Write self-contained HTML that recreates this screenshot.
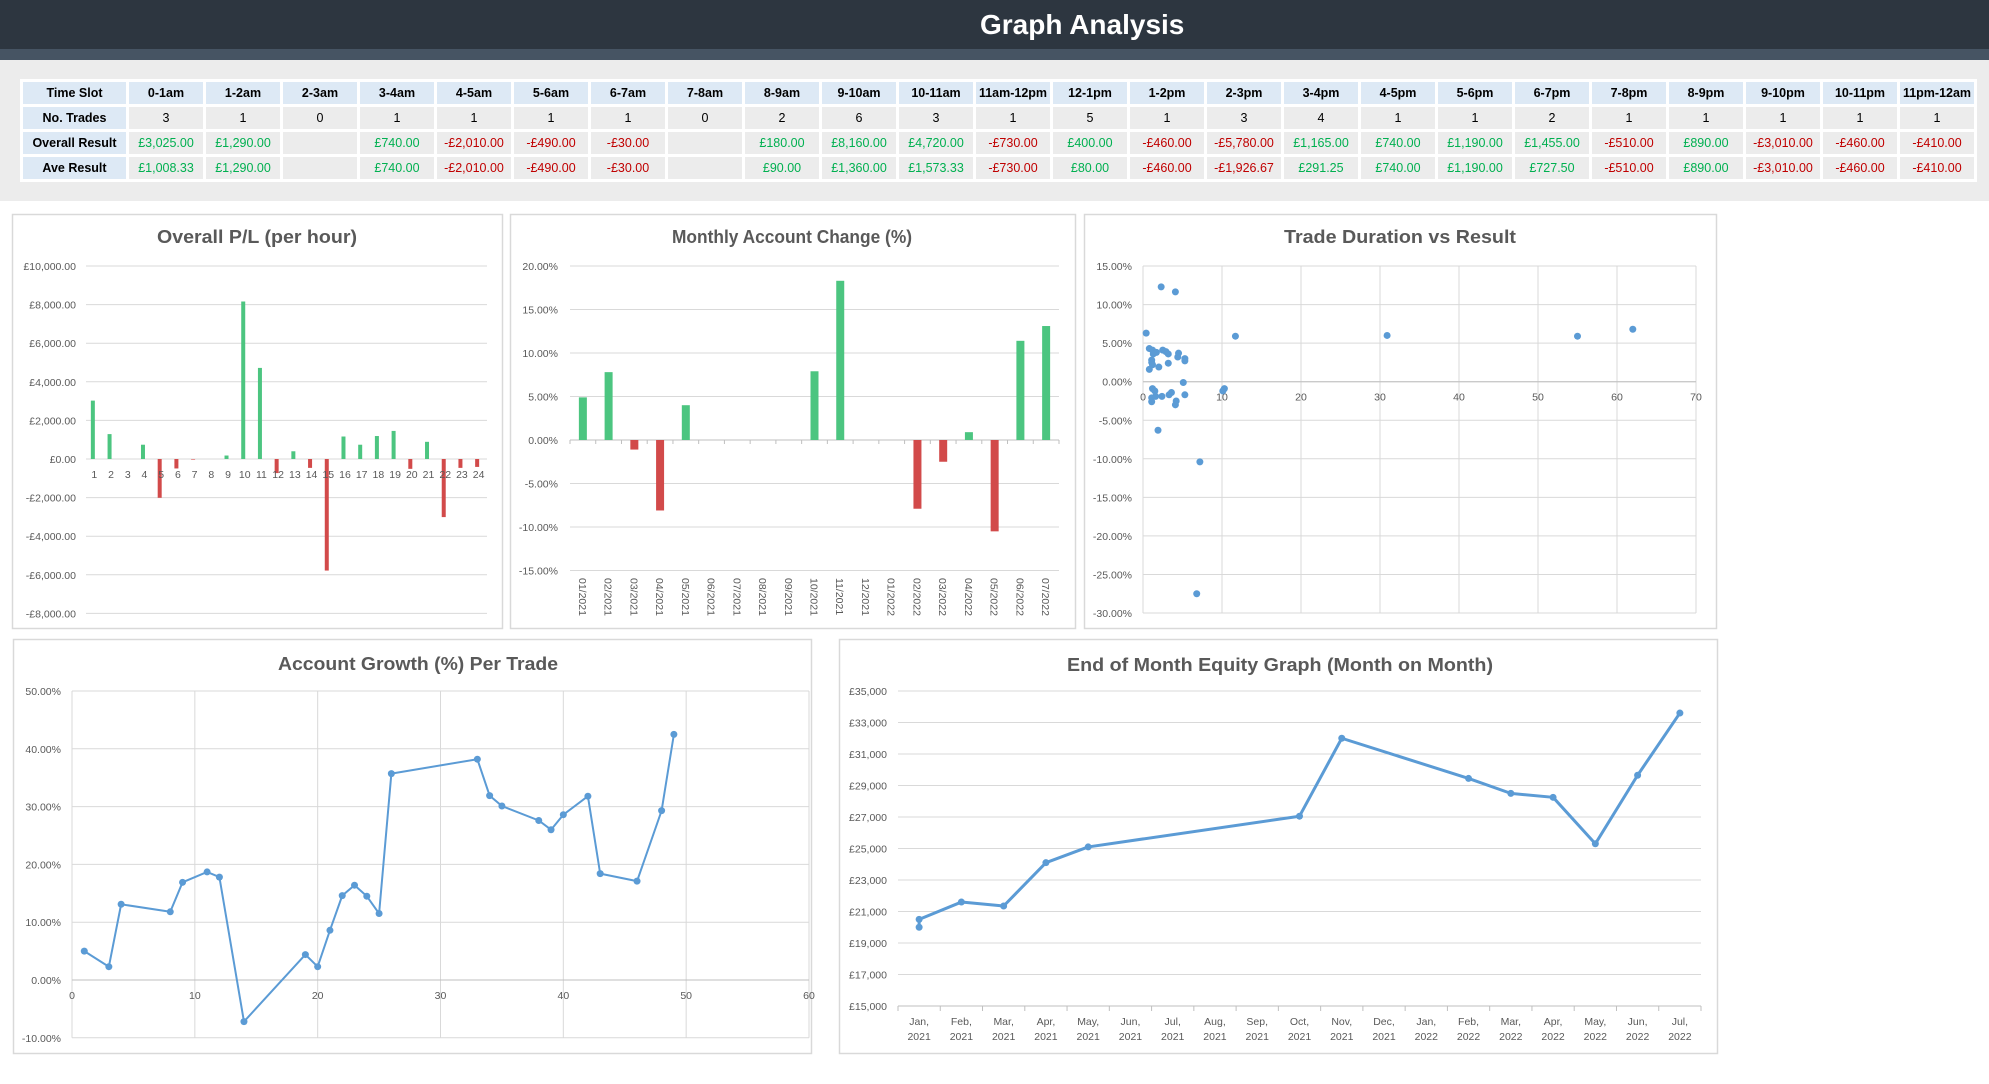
<!DOCTYPE html>
<html><head><meta charset="utf-8">
<style>
body{margin:0;width:1989px;height:1084px;background:#fff;position:relative;overflow:hidden;font-family:"Liberation Sans",sans-serif}
#hdr{position:absolute;left:0;top:0;width:1989px;height:49px;background:#2d3640}
#strip{position:absolute;left:0;top:49px;width:1989px;height:11px;background:#465463}
#gray{position:absolute;left:0;top:60px;width:1989px;height:141px;background:#ececec}
#title{position:absolute;left:980px;top:9px;color:#fff;font-weight:bold;font-size:28px;white-space:nowrap}
#tbl{position:absolute;left:20px;top:79px;border-collapse:separate;border-spacing:3px;background:#fff;font-size:12.5px;table-layout:fixed}
#tbl td{height:22px;padding:0;text-align:center;background:#ececec;white-space:nowrap;overflow:hidden;width:74px;color:#000}
#tbl td.h{background:#dde9f5;font-weight:bold}
#tbl td.f{width:103px}
#tbl td.g{color:#00b050}#tbl td.r{color:#c00000}
svg{position:absolute;left:0;top:0}
</style></head><body>
<div id="hdr"></div>
<div id="strip"></div>
<div id="gray"></div>
<div id="title">Graph Analysis</div>
<table id="tbl">
<tr><td class="h f">Time Slot</td><td class="h">0-1am</td><td class="h">1-2am</td><td class="h">2-3am</td><td class="h">3-4am</td><td class="h">4-5am</td><td class="h">5-6am</td><td class="h">6-7am</td><td class="h">7-8am</td><td class="h">8-9am</td><td class="h">9-10am</td><td class="h">10-11am</td><td class="h">11am-12pm</td><td class="h">12-1pm</td><td class="h">1-2pm</td><td class="h">2-3pm</td><td class="h">3-4pm</td><td class="h">4-5pm</td><td class="h">5-6pm</td><td class="h">6-7pm</td><td class="h">7-8pm</td><td class="h">8-9pm</td><td class="h">9-10pm</td><td class="h">10-11pm</td><td class="h">11pm-12am</td></tr>
<tr><td class="h f">No. Trades</td><td>3</td><td>1</td><td>0</td><td>1</td><td>1</td><td>1</td><td>1</td><td>0</td><td>2</td><td>6</td><td>3</td><td>1</td><td>5</td><td>1</td><td>3</td><td>4</td><td>1</td><td>1</td><td>2</td><td>1</td><td>1</td><td>1</td><td>1</td><td>1</td></tr>
<tr><td class="h f">Overall Result</td><td class="g">£3,025.00</td><td class="g">£1,290.00</td><td></td><td class="g">£740.00</td><td class="r">-£2,010.00</td><td class="r">-£490.00</td><td class="r">-£30.00</td><td></td><td class="g">£180.00</td><td class="g">£8,160.00</td><td class="g">£4,720.00</td><td class="r">-£730.00</td><td class="g">£400.00</td><td class="r">-£460.00</td><td class="r">-£5,780.00</td><td class="g">£1,165.00</td><td class="g">£740.00</td><td class="g">£1,190.00</td><td class="g">£1,455.00</td><td class="r">-£510.00</td><td class="g">£890.00</td><td class="r">-£3,010.00</td><td class="r">-£460.00</td><td class="r">-£410.00</td></tr>
<tr><td class="h f">Ave Result</td><td class="g">£1,008.33</td><td class="g">£1,290.00</td><td></td><td class="g">£740.00</td><td class="r">-£2,010.00</td><td class="r">-£490.00</td><td class="r">-£30.00</td><td></td><td class="g">£90.00</td><td class="g">£1,360.00</td><td class="g">£1,573.33</td><td class="r">-£730.00</td><td class="g">£80.00</td><td class="r">-£460.00</td><td class="r">-£1,926.67</td><td class="g">£291.25</td><td class="g">£740.00</td><td class="g">£1,190.00</td><td class="g">£727.50</td><td class="r">-£510.00</td><td class="g">£890.00</td><td class="r">-£3,010.00</td><td class="r">-£460.00</td><td class="r">-£410.00</td></tr>
</table>
<svg id="charts" width="1989" height="1084"></svg>
<script>
// Chart 1 data
const plHours = [1,2,3,4,5,6,7,8,9,10,11,12,13,14,15,16,17,18,19,20,21,22,23,24];
const plValues = [3025,1290,0,740,-2010,-490,-30,0,180,8160,4720,-730,400,-460,-5780,1165,740,1190,1455,-510,890,-3010,-460,-410];
const plTicks = [10000,8000,6000,4000,2000,0,-2000,-4000,-6000,-8000];
// Chart 2 data
const monthCats = ["01/2021","02/2021","03/2021","04/2021","05/2021","06/2021","07/2021","08/2021","09/2021","10/2021","11/2021","12/2021","01/2022","02/2022","03/2022","04/2022","05/2022","06/2022","07/2022"];
const monthChange = [4.9,7.8,-1.1,-8.1,4.0,0,0,0,0,7.9,18.3,0,0,-7.9,-2.5,0.9,-10.5,11.4,13.1];
const changeTicks = [20,15,10,5,0,-5,-10,-15];
// Chart 3 data
const durX = [2.3,4.1,0.4,11.7,30.9,55.0,62.0,0.8,1.2,1.7,2.5,2.9,3.2,4.5,4.4,5.3,5.3,1.1,1.1,1.2,3.2,2.0,0.8,1.3,5.1,10.3,10.1,1.2,1.5,1.1,1.1,1.6,2.4,3.3,3.6,5.3,4.2,4.1,1.9,7.2,6.8];
const durY = [12.3,11.65,6.3,5.9,6.0,5.9,6.8,4.3,4.1,3.8,4.1,3.9,3.6,3.7,3.2,3.0,2.7,2.8,2.5,2.2,2.4,1.9,1.6,3.6,-0.1,-0.9,-1.2,-0.9,-1.2,-2.1,-2.6,-1.9,-1.9,-1.7,-1.4,-1.7,-2.5,-3.0,-6.3,-10.4,-27.5];
const durXTicks = [0,10,20,30,40,50,60,70];
const durYTicks = [15,10,5,0,-5,-10,-15,-20,-25,-30];
// Chart 4 data
const tradeNo = [1,3,4,8,9,11,12,14,19,20,21,22,23,24,25,26,33,34,35,38,39,40,42,43,46,48,49];
const growth = [5.0,2.3,13.1,11.8,16.9,18.7,17.8,-7.2,4.4,2.3,8.6,14.6,16.4,14.5,11.5,35.7,38.2,31.9,30.1,27.6,26.0,28.6,31.8,18.4,17.1,29.3,42.5];
const growthXTicks = [0,10,20,30,40,50,60];
const growthYTicks = [50,40,30,20,10,0,-10];
// Chart 5 data
const eqMonths = ["Jan,|2021","Feb,|2021","Mar,|2021","Apr,|2021","May,|2021","Jun,|2021","Jul,|2021","Aug,|2021","Sep,|2021","Oct,|2021","Nov,|2021","Dec,|2021","Jan,|2022","Feb,|2022","Mar,|2022","Apr,|2022","May,|2022","Jun,|2022","Jul,|2022"];
const eqIndex = [0,0,1,2,3,4,9,10,13,14,15,16,17,18];
const eqValues = [20000,20500,21600,21350,24100,25100,27050,32000,29450,28500,28250,25300,29650,33600];
const eqTicks = [35000,33000,31000,29000,27000,25000,23000,21000,19000,17000,15000];

const NS='http://www.w3.org/2000/svg';
const svg=document.getElementById('charts');
function mk(tag,attrs,parent){const e=document.createElementNS(NS,tag);for(const k in attrs)e.setAttribute(k,attrs[k]);(parent||svg).appendChild(e);return e;}
function txt(s,x,y,size,anchor,parent,extra){const t=mk('text',Object.assign({x:x,y:y,'font-size':size,'text-anchor':anchor,fill:'#595959','font-family':'Liberation Sans, sans-serif'},extra||{}),parent);t.textContent=s;return t;}
const fmtGBP=(v,d)=>(v<0?'-':'')+'£'+Math.abs(v).toLocaleString('en-GB',{minimumFractionDigits:d,maximumFractionDigits:d});
const fmtPct=v=>v.toFixed(2)+'%';
const GRID='#d9d9d9', GREEN='#4cc580', RED='#d24a4a', BLUE='#5b9bd5';
function panel(name,x,y,w,h,title,tx,ty,tl){
  const g=mk('g',{});
  
  
  const r=mk('rect',{x:x+0.5,y:y+0.5,width:w,height:h,fill:'#fff',stroke:'#d9d9d9','stroke-width':1.5},g);
  
  
  const t=txt(title,tx,ty,18,'middle',g,{'font-weight':'bold',textLength:tl,lengthAdjust:'spacingAndGlyphs'});
  
  
  return g;
}
function hline(g,x1,x2,y,color){return mk('line',{x1:x1,x2:x2,y1:y,y2:y,stroke:color||GRID,'stroke-width':1},g);}
function vline(g,x,y1,y2,color){return mk('line',{x1:x,x2:x,y1:y1,y2:y2,stroke:color||GRID,'stroke-width':1},g);}

// ---- Chart 1
(function(){
  const g=panel('overall-pl-chart',12,214,490,414,'Overall P/L (per hour)',257,243,200);
  const X0=86,X1=487,y=v=>459-v*(193/10000),bw=(X1-X0)/plHours.length;
  plTicks.forEach(v=>{hline(g,X0,X1,y(v));const t=txt(fmtGBP(v,2),76,y(v)+4,10.5,'end',g);});
  plValues.forEach((v,i)=>{const cx=X0+(i+0.5)*bw-1.5;const r=mk('rect',{x:cx-2,y:Math.min(y(v),y(0)),width:4,height:Math.abs(y(v)-y(0)),fill:v>=0?GREEN:RED},g);
    
    });
  plHours.forEach((h,i)=>{const t=txt(String(h),X0+(i+0.5)*bw,y(0)+19,10.5,'middle',g);});
})();
// ---- Chart 2
(function(){
  const g=panel('monthly-change-chart',510,214,565,414,'Monthly Account Change (%)',792,243,240);
  const X0=570,X1=1059,y=v=>440-v*8.7,bw=(X1-X0)/monthCats.length;
  changeTicks.forEach(v=>{hline(g,X0,X1,y(v));const t=txt(fmtPct(v),558,y(v)+4,10.5,'end',g);});
  hline(g,X0,X1,y(0),'#bfbfbf');
  for(let i=0;i<=monthCats.length;i++)vline(g,X0+i*bw,y(0),y(0)+4,'#bfbfbf');
  monthChange.forEach((v,i)=>{const cx=X0+(i+0.5)*bw;const r=mk('rect',{x:cx-4,y:Math.min(y(v),y(0)),width:8,height:Math.abs(y(v)-y(0)),fill:v>=0?GREEN:RED},g);
    
    });
  monthCats.forEach((m,i)=>{const cx=X0+(i+0.5)*bw;const t=txt(m,cx-4,578,10.5,'start',g,{transform:'rotate(90 '+(cx-4)+' 578)'});});
})();
// ---- Chart 3
(function(){
  const g=panel('duration-vs-result-chart',1084,214,632,414,'Trade Duration vs Result',1400,243,232);
  const X0=1143,x=v=>X0+v*(553/70),y=v=>381.7-v*7.71;
  durYTicks.forEach(v=>{hline(g,X0,x(70),y(v));const t=txt(fmtPct(v),1132,y(v)+4,10.5,'end',g);});
  durXTicks.forEach(v=>{vline(g,x(v),y(15),y(-30));const t=txt(String(v),x(v),y(0)+19,10.5,'middle',g);});
  hline(g,X0,x(70),y(0),'#bfbfbf');
  durX.forEach((v,i)=>{const c=mk('circle',{cx:x(v),cy:y(durY[i]),r:3.5,fill:BLUE},g);
    
    });
})();
// ---- Chart 4
(function(){
  const g=panel('account-growth-chart',13,639,798,414,'Account Growth (%) Per Trade',418,670,280);
  const X0=72,x=v=>X0+v*(737/60),y=v=>980-v*5.78;
  growthYTicks.forEach(v=>{hline(g,X0,x(60),y(v));const t=txt(fmtPct(v),61,y(v)+4,10.5,'end',g);});
  growthXTicks.forEach(v=>{vline(g,x(v),y(50),y(-10));const t=txt(String(v),x(v),y(0)+19,10.5,'middle',g);});
  hline(g,X0,x(60),y(0),'#bfbfbf');
  const p=mk('polyline',{points:tradeNo.map((v,i)=>x(v)+','+y(growth[i])).join(' '),fill:'none',stroke:BLUE,'stroke-width':2},g);
  
  
  tradeNo.forEach((v,i)=>{const c=mk('circle',{cx:x(v),cy:y(growth[i]),r:3.5,fill:BLUE},g);
    
    });
})();
// ---- Chart 5
(function(){
  const g=panel('equity-chart',839,639,878,414,'End of Month Equity Graph (Month on Month)',1280,671,426);
  const X0=898,X1=1701,bw=(X1-X0)/eqMonths.length,x=i=>X0+(i+0.5)*bw,y=v=>691+(35000-v)*(315/20000);
  eqTicks.forEach(v=>{hline(g,X0,X1,y(v));const t=txt(fmtGBP(v,0),887,y(v)+4,10.5,'end',g);});
  hline(g,X0,X1,y(15000),'#bfbfbf');
  for(let i=0;i<=eqMonths.length;i++)vline(g,X0+i*bw,y(15000),y(15000)+5,'#bfbfbf');
  eqMonths.forEach((m,i)=>{const [a,b]=m.split('|');const t1=txt(a,x(i),1025,10.5,'middle',g);const t2=txt(b,x(i),1040,10.5,'middle',g);});
  const p=mk('polyline',{points:eqIndex.map((v,i)=>x(v)+','+y(eqValues[i])).join(' '),fill:'none',stroke:BLUE,'stroke-width':3,'stroke-linejoin':'round'},g);
  
  
  eqIndex.forEach((v,i)=>{const c=mk('circle',{cx:x(v),cy:y(eqValues[i]),r:3.5,fill:BLUE},g);
    
    });
})();
</script>
</body></html>
